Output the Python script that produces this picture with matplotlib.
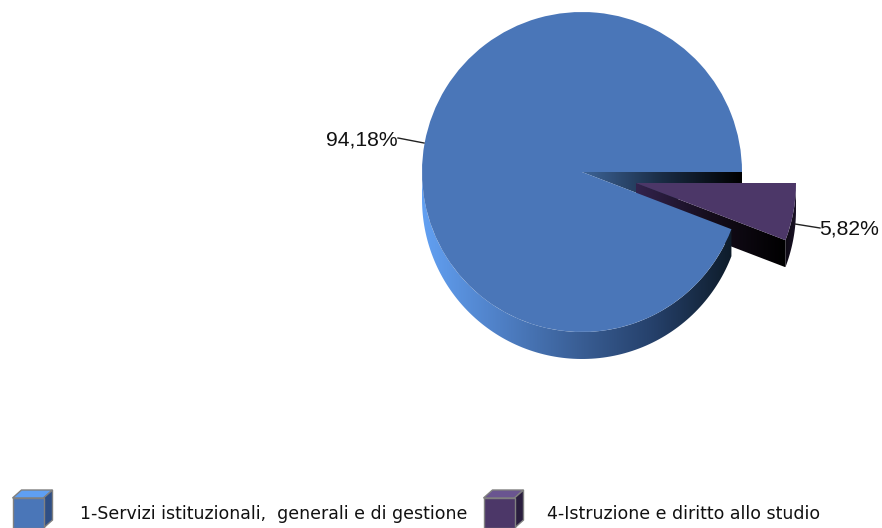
import numpy as np
import matplotlib
matplotlib.use('Agg')
import matplotlib.pyplot as plt
from matplotlib.patches import Wedge, Polygon
from matplotlib.colors import LinearSegmentedColormap

# Values
categories = ["1-Servizi istituzionali,  generali e di gestione", "4-Istruzione e diritto allo studio"]
shares = [94.18, 5.82]
pct_labels = ["94,18%", "5,82%"]

W, H = 882, 528
fig = plt.figure(figsize=(W / 100, H / 100), dpi=100)
ax = fig.add_axes([0, 0, 1, 1])
ax.set_xlim(0, W)
ax.set_ylim(H, 0)
ax.axis('off')

# pixel geometry of the fake 3d pie
cx, cy, r = 582, 172, 160
depth = 27
dx, dy = 54, 11
small_angle = 360 * shares[1] / 100
BLUE = '#4a76b8'
PURPLE = '#4c3768'


def gradient(x0, x1, y0, y1, colors, clip, z):
    cmap = LinearSegmentedColormap.from_list('g', colors)
    im = ax.imshow(np.linspace(0, 1, 256).reshape(1, -1), cmap=cmap, extent=[x0, x1, y1, y0],
                   aspect='auto', zorder=z, interpolation='bilinear')
    poly = Polygon(clip, closed=True, transform=ax.transData, fc='none', ec='none')
    ax.add_patch(poly)
    im.set_clip_path(poly)


def arc_side(x, y, a0, a1):
    t = np.radians(np.linspace(a0, a1, 120))
    px = x + r * np.cos(t)
    py = y + r * np.sin(t)
    top = np.column_stack([px, py])
    bottom = np.column_stack([px, py + depth])[::-1]
    return np.vstack([top, bottom])


# cut face seen through the gap
a = np.radians(small_angle)
gap = [(cx, cy), (cx + r, cy), (cx + r, cy + depth), (cx + r * np.cos(a), cy + r * np.sin(a))]
gradient(cx, cx + r, cy, cy + depth, ['#3d6498', '#1a2c44', '#000000'], gap, 1)

# exploded slice, side faces
sx, sy = cx + dx, cy + dy
ex, ey = sx + r * np.cos(a), sy + r * np.sin(a)
cut = [(sx, sy), (ex, ey), (ex, ey + depth), (sx, sy + depth)]
gradient(sx, ex, sy, ey + depth, ['#33234d', '#150d1c', '#000000'], cut, 2)
gradient(ex - 12, sx + r, sy, ey + depth, ['#000000', '#1a1226'], arc_side(sx, sy, 0, small_angle), 2)
ax.add_patch(Wedge((sx, sy), r, 0, small_angle, fc=PURPLE, ec='none', zorder=3))

# main slice, side then top
gradient(cx - r, cx + r * np.cos(a), cy, cy + r + depth,
         ['#62a0f2', '#4f80c6', '#3a5f96', '#25406a', '#0e1c2a'],
         arc_side(cx, cy, small_angle, 180), 4)
ax.add_patch(Wedge((cx, cy), r, small_angle, 360, fc=BLUE, ec='none', zorder=5))

# leader lines and labels
ax.plot([398, 424], [138, 143], color='#222222', lw=1, zorder=6)
ax.plot([795, 820], [224, 228], color='#222222', lw=1, zorder=6)
ax.text(398, 140, pct_labels[0], ha='right', va='center', fontsize=15.2,
        family='Liberation Sans', color='#111111')
ax.text(819, 229, pct_labels[1], ha='left', va='center', fontsize=15.2,
        family='Liberation Sans', color='#111111')


# legend
def cube(x, front, top, side):
    y0, y1 = 498, 528
    w, ox, oy = 31, 9, 8
    edge = '#808080'
    ax.add_patch(Polygon([(x, y0), (x + ox, y0 - oy), (x + w + ox, y0 - oy), (x + w, y0)], fc=top, ec=edge, lw=1))
    ax.add_patch(Polygon([(x + w, y0), (x + w + ox, y0 - oy), (x + w + ox, y1 - oy), (x + w, y1)], fc=side, ec=edge, lw=1))
    ax.add_patch(Polygon([(x, y0), (x + w, y0), (x + w, y1), (x, y1)], fc=front, ec=edge, lw=1))


cube(12.5, BLUE, '#5f9ff2', '#2f4f85')
cube(483.5, PURPLE, '#6a5590', '#2a1e3e')
ax.text(80, 514, categories[0], ha='left', va='center', fontsize=12.55,
        family='DejaVu Sans', color='#111111')
ax.text(547, 514, categories[1], ha='left', va='center', fontsize=12.55,
        family='DejaVu Sans', color='#111111')

ax.set_xlim(0, W)
ax.set_ylim(H, 0)
fig.savefig('out.png', dpi=100)
